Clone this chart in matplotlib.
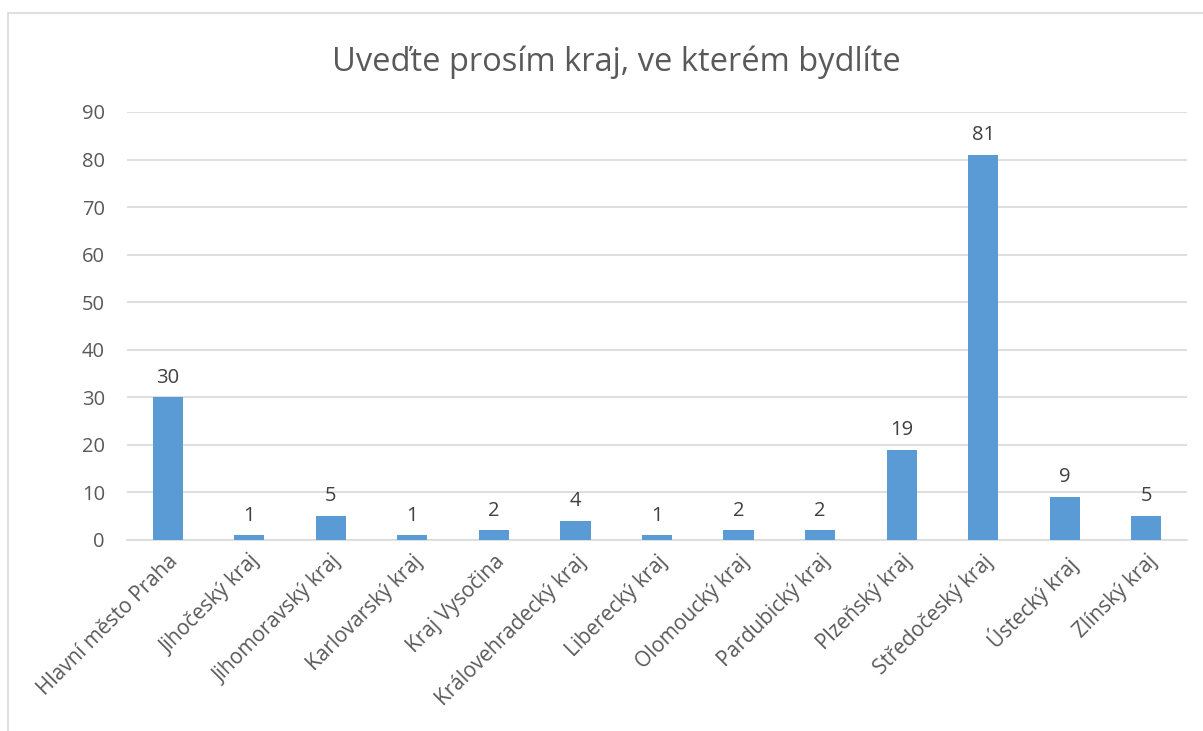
import matplotlib.pyplot as plt
from matplotlib.patches import Rectangle

plt.rcParams['font.family'] = ['Open Sans', 'DejaVu Sans']

kraje = ['Hlavní město Praha', 'Jihočeský kraj', 'Jihomoravský kraj', 'Karlovarský kraj',
         'Kraj Vysočina', 'Královehradecký kraj', 'Liberecký kraj', 'Olomoucký kraj',
         'Pardubický kraj', 'Plzeňský kraj', 'Středočeský kraj', 'Ústecký kraj', 'Zlínský kraj']
pocty = [30, 1, 5, 1, 2, 4, 1, 2, 2, 19, 81, 9, 5]
yticks = [0, 10, 20, 30, 40, 50, 60, 70, 80, 90]

text_col = '#595959'
grid_col = '#D9D9D9'
bar_col = '#5B9BD5'

fig = plt.figure(figsize=(12.03, 7.31), dpi=100)
ax = fig.add_axes([0.1056, 0.2613, 0.8811, 0.5855])

x = range(len(kraje))
bars = ax.bar(x, pocty, width=0.37, color=bar_col, zorder=3)
for b, v in zip(bars, pocty):
    ax.annotate(str(v), (b.get_x() + b.get_width() / 2, v), xytext=(0, 7),
                textcoords='offset points', ha='center', va='bottom',
                fontsize=14.5, color='#404040')

ax.set_xlim(-0.5, len(kraje) - 0.5)
ax.set_ylim(0, 90)
ax.set_yticks(yticks)
ax.yaxis.grid(True, color=grid_col, lw=1.2, zorder=0)
ax.tick_params(axis='y', length=0, labelsize=14.5, labelcolor=text_col, pad=16)
ax.tick_params(axis='x', length=0, labelsize=15, labelcolor=text_col, pad=8)
ax.set_xticks(list(x))
ax.set_xticklabels(kraje, rotation=45, ha='right', rotation_mode='anchor')
for s in ['top', 'right', 'left']:
    ax.spines[s].set_visible(False)
ax.spines['bottom'].set_color(grid_col)
ax.spines['bottom'].set_linewidth(1.2)

fig.text(0.512, 0.915, 'Uveďte prosím kraj, ve kterém bydlíte', ha='center', va='center',
         fontsize=23.5, color=text_col)

fig.add_artist(Rectangle((8 / 1203, -0.1), 1.2, 1.1 - 13 / 731, transform=fig.transFigure,
                         fill=False, edgecolor=grid_col, lw=1.2))

fig.savefig('out.png', dpi=100)
